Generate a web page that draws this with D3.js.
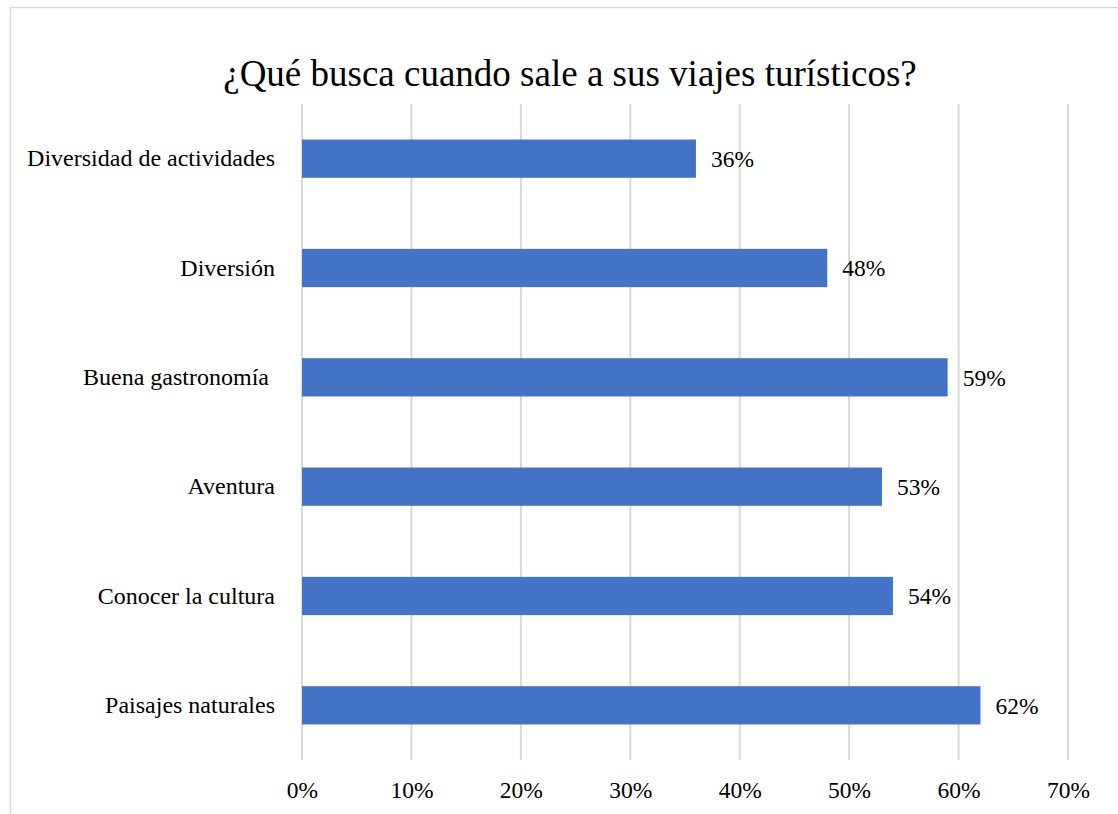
<!DOCTYPE html>
<html>
<head>
<meta charset="utf-8">
<script src="https://cdn.jsdelivr.net/npm/d3@7"></script>
<style>
  html, body { margin: 0; padding: 0; background: #fff; }
  svg { display: block; }
  text { font-family: "Liberation Serif", "Times New Roman", serif; fill: #000; }
</style>
</head>
<body>
<svg id="chart" width="1118" height="814"></svg>
<script>
// Survey answers: what people look for when travelling
const categories = [
  "Diversidad de actividades",
  "Diversión",
  "Buena gastronomía ",
  "Aventura",
  "Conocer la cultura",
  "Paisajes naturales"
];
const shares = [0.36, 0.48, 0.59, 0.53, 0.54, 0.62];
const tickValues = [0, 0.1, 0.2, 0.3, 0.4, 0.5, 0.6, 0.7];
const titleText = "¿Qué busca cuando sale a sus viajes turísticos?";

const W = 1118, H = 814;
const plot = { left: 302, right: 1068, top: 104, bottom: 760 };
const labelSize = "23.5px";
const categorySize = "24px";

const svg = d3.select("#chart");

// Outer chart frame
svg.append("rect")
  .attr("x", 10.5).attr("y", 7.5)
  .attr("width", W + 20).attr("height", H + 20)
  .attr("fill", "#fff")
  .attr("stroke", "#d9d9d9")
  .attr("stroke-width", 1.5);

const x = d3.scaleLinear().domain([0, 0.7]).range([plot.left, plot.right]);
const y = d3.scaleBand().domain(categories).range([plot.top, plot.bottom]).paddingInner(0.65).paddingOuter(0.325);

// Vertical gridlines
svg.append("g")
  .selectAll("line")
  .data(tickValues)
  .join("line")
  .attr("x1", d => x(d)).attr("x2", d => x(d))
  .attr("y1", plot.top).attr("y2", plot.bottom)
  .attr("stroke", "#d9d9d9")
  .attr("stroke-width", 2);

// Bottom axis: percentage labels only
const xAxis = d3.axisBottom(x).tickValues(tickValues).tickFormat(d3.format(".0%")).tickSize(0).tickPadding(21);
const gx = svg.append("g").attr("transform", `translate(0,${plot.bottom})`).call(xAxis);
gx.select(".domain").remove();
gx.selectAll("text").style("font-family", "'Liberation Serif', serif").style("font-size", labelSize).attr("fill", "#000");

// Left axis: category names
const yAxis = d3.axisLeft(y).tickSize(0).tickPadding(27);
const gy = svg.append("g").attr("transform", `translate(${plot.left},0)`).call(yAxis);
gy.select(".domain").remove();
gy.selectAll("text").style("font-family", "'Liberation Serif', serif").style("font-size", categorySize)
  .attr("fill", "#000").attr("xml:space", "preserve").style("white-space", "pre");

// Bars
svg.append("g")
  .selectAll("rect")
  .data(categories)
  .join("rect")
  .attr("x", x(0))
  .attr("y", d => y(d))
  .attr("width", (d, i) => x(shares[i]) - x(0))
  .attr("height", y.bandwidth())
  .attr("fill", "#4472c4");

// Value labels
svg.append("g")
  .selectAll("text")
  .data(categories)
  .join("text")
  .attr("x", (d, i) => x(shares[i]) + 15)
  .attr("y", d => y(d) + y.bandwidth() / 2)
  .attr("dy", "0.35em")
  .style("font-size", labelSize)
  .text((d, i) => d3.format(".0%")(shares[i]));

// Title
svg.append("text")
  .attr("x", 570)
  .attr("y", 86)
  .attr("text-anchor", "middle")
  .style("font-size", "37px")
  .text(titleText);
</script>
</body>
</html>
